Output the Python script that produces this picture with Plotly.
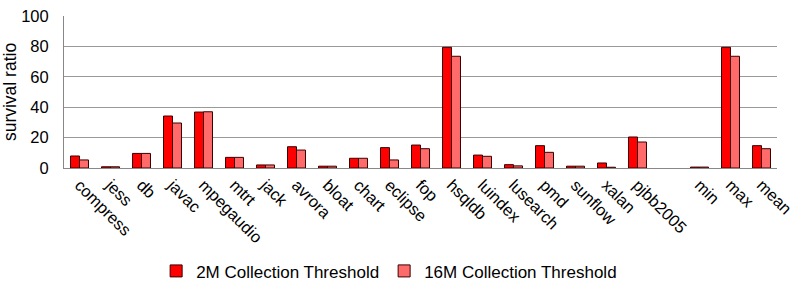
import plotly.graph_objects as go

categories = ["compress", "jess", "db", "javac", "mpegaudio", "mtrt", "jack", "avrora",
              "bloat", "chart", "eclipse", "fop", "hsqldb", "luindex", "lusearch", "pmd",
              "sunflow", "xalan", "pjbb2005", " ", "min", "max", "mean"]
threshold_2m = [7.9, 0.8, 9.6, 34.2, 36.8, 7.0, 2.0, 14.0, 1.2, 6.4, 13.4, 15.1, 79.4,
                8.5, 2.2, 14.7, 1.2, 3.3, 20.4, None, 0.6, 79.4, 14.7]
threshold_16m = [5.3, 0.8, 9.6, 29.6, 37.0, 7.0, 2.0, 11.8, 1.2, 6.4, 5.3, 12.7, 73.5,
                 7.7, 1.4, 10.3, 1.2, 0.5, 17.1, None, 0.6, 73.5, 12.7]
series_names = ["2M Collection Threshold", "16M Collection Threshold"]
y_ticks = [0, 20, 40, 60, 80, 100]

font = "Liberation Sans, Arial, sans-serif"
fig = go.Figure()
for name, vals, col in [(series_names[0], threshold_2m, "#FF0000"),
                        (series_names[1], threshold_16m, "#FF6B6B")]:
    fig.add_trace(go.Bar(x=categories, y=vals, name=name,
                         marker=dict(color=col, line=dict(color="#3a0000", width=1))))

fig.update_layout(
    width=797, height=286, autosize=False,
    margin=dict(l=64, r=20, t=16, b=118, autoexpand=False),
    paper_bgcolor="white", plot_bgcolor="white",
    barmode="group", bargap=0.42, bargroupgap=0,
    font=dict(family=font, size=14, color="black"),
    showlegend=True,
    legend=dict(orientation="h", x=0.456, xanchor="center",
                y=-0.68, yanchor="middle", font=dict(size=17),
                itemwidth=30, traceorder="normal"),
)
fig.update_xaxes(type="category", tickmode="array", tickvals=categories,
                 ticktext=categories, tickangle=45, showline=True, linecolor="#888888",
                 linewidth=1, ticks="", tickfont=dict(size=16.5), showgrid=False,
                 automargin=False)
fig.update_yaxes(range=[0, 100], tickvals=y_ticks, showgrid=True, gridcolor="#999999",
                 gridwidth=1, showline=True, linecolor="#888888", linewidth=1,
                 ticks="", ticklabelstandoff=11,
                 tickfont=dict(size=16.5), zeroline=False, automargin=True,
                 title=dict(text="survival ratio", font=dict(size=17.5), standoff=3))
fig.write_html("out.html")
